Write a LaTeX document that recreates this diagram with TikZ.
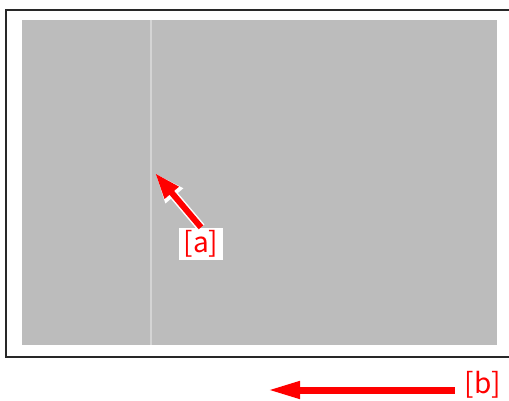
\documentclass[tikz,border=0pt]{standalone}
\usepackage{fontspec}
\setmainfont{Noto Sans CJK JP}
\usetikzlibrary{arrows.meta}
\definecolor{panelgray}{RGB}{188,188,188}
\definecolor{seamgray}{RGB}{212,212,212}
\definecolor{framegray}{RGB}{40,40,40}

\begin{document}
\begin{tikzpicture}[x=1pt,y=-1pt,
  callout/.style={fill=white,text=red,font=\fontsize{28}{28}\selectfont,inner xsep=5pt,inner ysep=3pt},
  redarrow/.style={red,line width=6pt,-{Triangle[length=26pt,width=17pt]}}]
\useasboundingbox (0,0) rectangle (509,401);
% outer frame
\draw[framegray,line width=1.5pt] (6,10) rectangle (520,357);
% gray panel with seam
\fill[panelgray] (22,20) rectangle (497,345);
\draw[seamgray,line width=2pt] (151,20) -- (151,345);

% callout a
\node[callout] (la) at (201,244) {[a]};
\coordinate (tipa) at (155,173);
\draw[white,line width=9pt,-{Triangle[length=30pt,width=21pt]}] (la.north) -- (tipa);
\draw[redarrow] (la.north) -- (tipa);

% callout b
\node[text=red,font=\fontsize{28}{28}\selectfont,inner sep=0pt] (lb) at (483,385) {[b]};
\coordinate (tipb) at (267,390);
\draw[red,line width=7pt,-{Triangle[length=33pt,width=16pt]}] (lb.west |- tipb) ++(-10,0) -- (tipb);
\end{tikzpicture}
\end{document}
